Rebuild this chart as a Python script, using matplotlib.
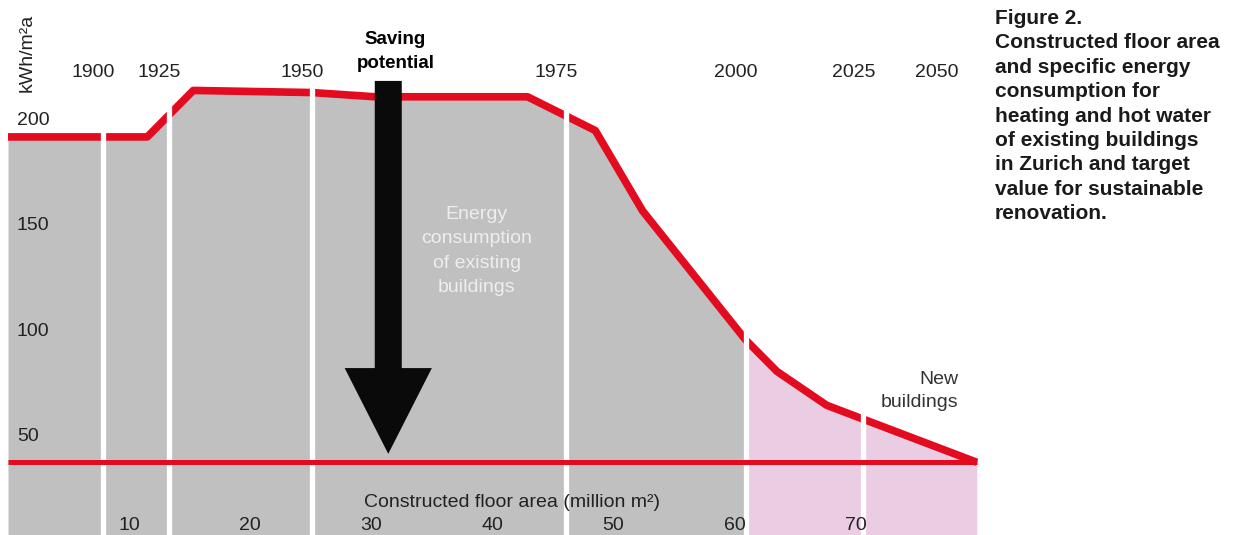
import numpy as np
import matplotlib
matplotlib.use("Agg")
import matplotlib.pyplot as plt

plt.rcParams["font.family"] = ["Liberation Sans", "DejaVu Sans"]

# ======== Data ========

# specific energy consumption curve (kWh/m2a) vs cumulative floor area (million m2)
floor_area = [0, 11.5, 15.3, 25.1, 30.3, 42.9, 48.5, 52.4, 60.9, 63.5, 67.6, 80]
energy = [192, 192, 214, 213, 211, 211, 195, 157, 96, 81, 65, 38]

# construction periods and where they end on the floor area axis
years = ["1900", "1925", "1950", "1975", "2000", "2025", "2050"]
year_bounds = [7.85, 13.3, 25.1, 46.1, 60.9, 70.6, 80]

existing_end = 60.9      # split between existing and new buildings
target_value = 38        # sustainable renovation target
area_ticks = [10, 20, 30, 40, 50, 60, 70]
energy_ticks = [200, 150, 100, 50]

# saving potential arrow
arrow_x = 31.4
arrow_top = 218.5
arrow_tip = 42

RED = "#e30b1f"
GREY = "#c0c0c0"
PINK = "#ebcde3"
TXT = "#222222"

caption = ("Figure 2.\nConstructed floor area\nand specific energy\nconsumption for\n"
           "heating and hot water\nof existing buildings\nin Zurich and target\n"
           "value for sustainable\nrenovation.")


def main():
    fig = plt.figure(figsize=(12.36, 5.35), dpi=100)
    ax = fig.add_axes([0, 0, 1, 1])
    ax.set_xlim(-0.66, 101.4)
    ax.set_ylim(3.6, 256.8)
    ax.axis("off")

    x = np.array(floor_area)
    y = np.array(energy)

    # fills: existing (grey) and new buildings (pink)
    old = x <= existing_end
    new = x >= existing_end
    ax.fill_between(x[old], y[old], 0, color=GREY, lw=0, zorder=1)
    ax.fill_between(x[new], y[new], 0, color=PINK, lw=0, zorder=1)

    # consumption curve
    ax.plot(x, y, color=RED, lw=5.5, solid_capstyle="butt", zorder=3)

    # white dividers between construction periods
    for b in year_bounds[:-1]:
        ax.vlines(b, 0, np.interp(b, x, y) + 6, color="white", lw=3.8, zorder=4)

    # target line
    ax.hlines(target_value, 0, 80, color=RED, lw=3.6, zorder=5)

    # saving potential arrow
    ax.arrow(arrow_x, arrow_top, 0, arrow_tip - arrow_top, width=2.23,
             head_width=7.2, head_length=40.6, length_includes_head=True,
             color="#0a0a0a", lw=0, zorder=6)

    # year labels above the dividers
    for yr, b in zip(years, year_bounds):
        dx = -29 if yr == "2050" else -7
        ax.annotate(yr, xy=(b, 222.7), xytext=(dx, 0), textcoords="offset points",
                    ha="center", va="center", fontsize=14, color=TXT)

    # energy labels inside the chart
    for v in energy_ticks:
        ax.text(0.74, v, str(v), ha="left", va="center", fontsize=14, color=TXT, zorder=7)
    ax.text(1.57, 232, "kWh/m²a", rotation=90, ha="center", va="center",
            fontsize=14, color=TXT)

    # floor area labels
    for a in area_ticks:
        ax.text(a, 8.3, str(a), ha="center", va="center", fontsize=14, color=TXT, zorder=7)
    ax.text(41.6, 19.2, "Constructed floor area (million m²)", ha="center",
            va="center", fontsize=14, color=TXT, zorder=7)

    ax.text(32.0, 232.5, "Saving\npotential", ha="center", va="center",
            fontsize=13.5, fontweight="bold", color="black", linespacing=1.5)
    ax.text(38.7, 138.0, "Energy\nconsumption\nof existing\nbuildings", ha="center",
            va="center", fontsize=14, color="#eeeeee", linespacing=1.55, zorder=2)
    ax.text(78.5, 71.8, "New\nbuildings", ha="right", va="center", fontsize=14,
            color="#333333", linespacing=1.5, zorder=7)

    fig.text(995 / 1236, 1 - 9 / 535, caption, ha="left", va="top", fontsize=15,
             fontweight="bold", color="#1a1a1a", linespacing=1.36)

    fig.savefig("out.png", dpi=100)


if __name__ == "__main__":
    main()
